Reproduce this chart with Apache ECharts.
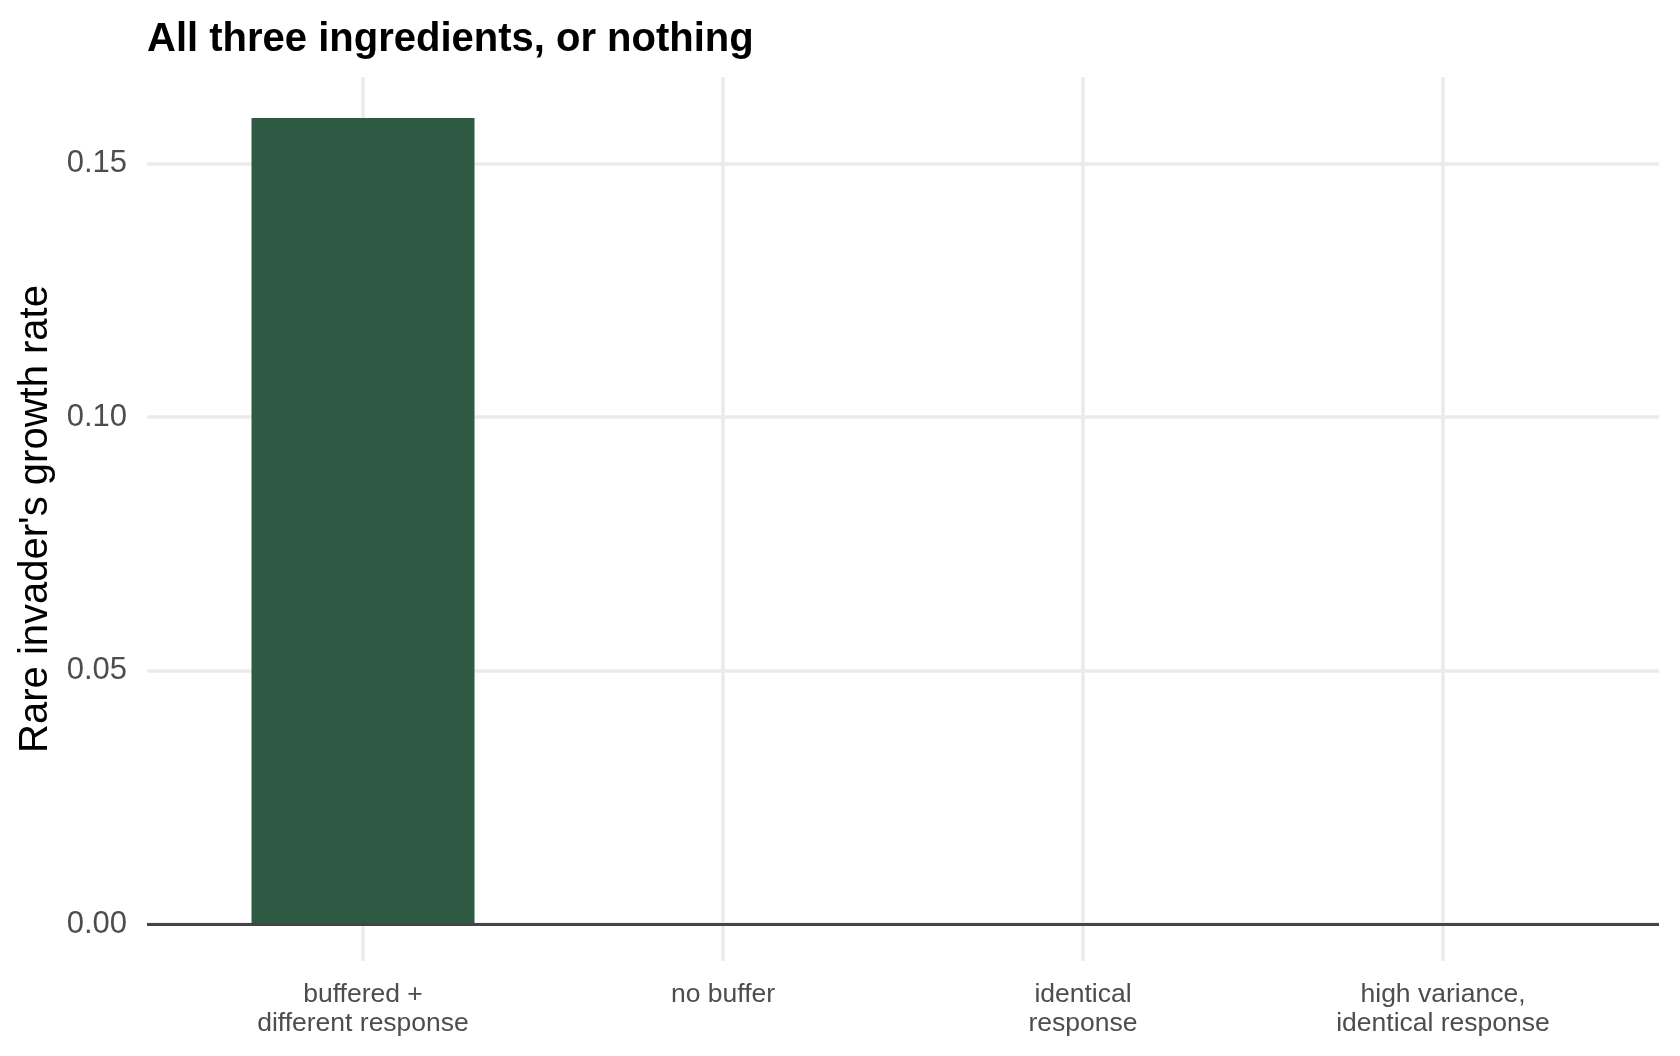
<!DOCTYPE html>
<html>
<head>
<meta charset="utf-8">
<script src="https://cdn.jsdelivr.net/npm/echarts@6/dist/echarts.min.js"></script>
<style>html,body{margin:0;padding:0;background:#fff}#c{width:1680px;height:1056px}</style>
</head>
<body>
<div id="c"></div>
<script>
const categories = ["buffered +\ndifferent response", "no buffer", "identical\nresponse", "high variance,\nidentical response"];
const growthRate = [0.159, 0, 0, 0];
const yTicks = [0, 0.05, 0.10, 0.15];
const xTicks = [0, 1, 2, 3];

const FONT = "'Liberation Sans', Arial, Helvetica, sans-serif";
const chart = echarts.init(document.getElementById('c'), null, {renderer: 'canvas'});
chart.setOption({
  backgroundColor: '#ffffff',
  animation: false,
  title: {
    text: 'All three ingredients, or nothing',
    left: 142, top: 15,
    textStyle: {fontFamily: FONT, fontWeight: 'bold', fontSize: 40, color: '#000'}
  },
  grid: {left: 147, right: 21, top: 77, bottom: 95, containLabel: false},
  xAxis: {
    type: 'value', min: -0.6, max: 3.6,
    axisLine: {show: false},
    axisTick: {show: false, customValues: xTicks},
    splitLine: {show: true, lineStyle: {color: '#EBEBEB', width: 3.5}},
    axisLabel: {
      customValues: xTicks,
      formatter: v => categories[Math.round(v)],
      fontFamily: FONT, fontSize: 26.5, color: '#4D4D4D', lineHeight: 29, margin: 19, align: 'center'
    }
  },
  yAxis: {
    type: 'value', min: -0.0073, max: 0.1671,
    name: "Rare invader's growth rate",
    nameLocation: 'middle', nameGap: 88,
    nameTextStyle: {fontFamily: FONT, fontSize: 40, color: '#000'},
    axisLine: {show: false},
    axisTick: {show: false, customValues: yTicks},
    splitLine: {show: true, lineStyle: {color: '#EBEBEB', width: 3.5}},
    axisLabel: {
      customValues: yTicks,
      formatter: v => v.toFixed(2),
      fontFamily: FONT, fontSize: 31, color: '#4D4D4D', margin: 20
    }
  },
  series: [{
    type: 'bar',
    data: xTicks.map((x, i) => [x, growthRate[i]]),
    barWidth: 223,
    itemStyle: {color: '#2E5A43'},
    markLine: {
      silent: true, symbol: 'none', label: {show: false},
      lineStyle: {color: '#444444', width: 3, type: 'solid'},
      data: [{yAxis: 0}]
    }
  }]
});
</script>
</body>
</html>
